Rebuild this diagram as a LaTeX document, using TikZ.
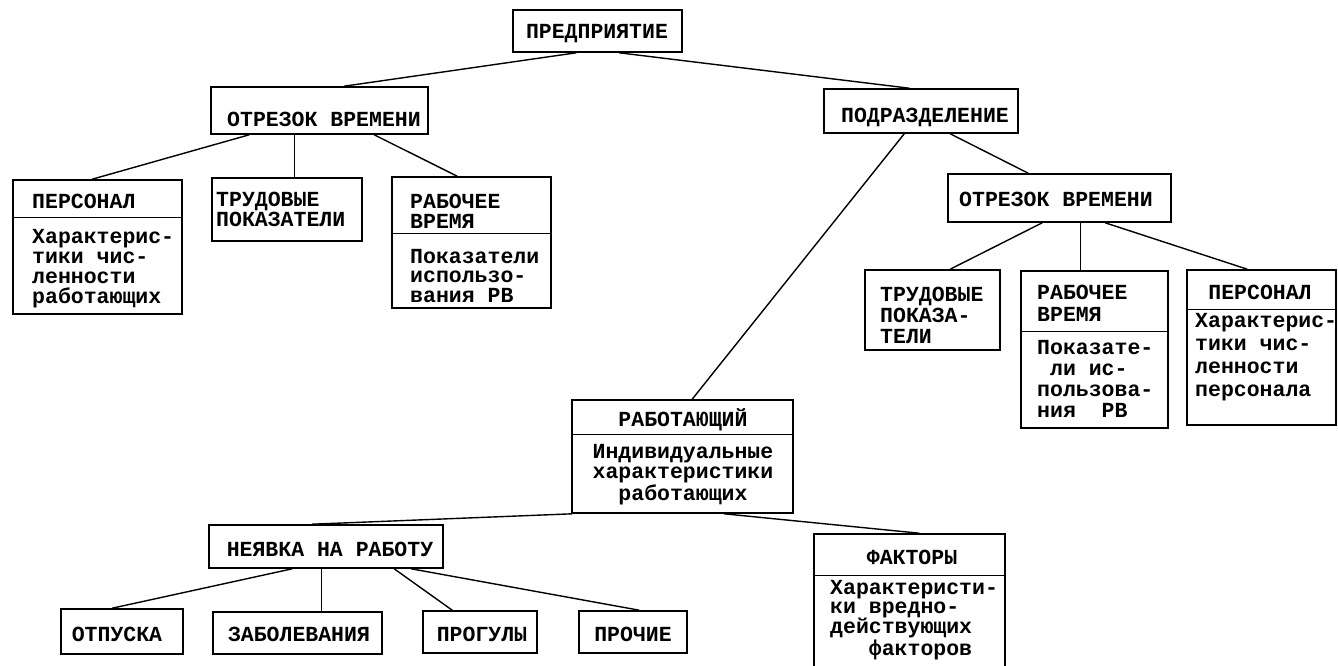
\documentclass[tikz,border=0pt]{standalone}
\usepackage{fontspec}
\newfontfamily\tw{Liberation Mono}
\usetikzlibrary{fit,calc}
\tikzset{
  box/.style={draw, line width=1.6pt, inner sep=0pt},
  txt/.style={font={\tw\bfseries\fontsize{21.5}{#1}\selectfont}, inner sep=0pt, align=left},
  txt/.default=20,
  ctxt/.style={txt=#1, align=center},
  ctxt/.default=20,
  link/.style={line width=1.4pt},
  divider/.style={line width=1.4pt},
}
\begin{document}
\begin{tikzpicture}[x=1pt,y=-1pt]
\useasboundingbox (0,0) rectangle (1338,666);
\fill[white] (0,0) rectangle (1338,666);
\clip (0,0) rectangle (1338,666);

% boxes
\node[box, fit={(513,10)(682,52)}] (pred) {};
\node[box, fit={(211,87)(428,134)}] (otL) {};
\node[box, fit={(824,89)(1018,133)}] (pod) {};
\node[box, fit={(13,180)(182,314)}] (perL) {};
\node[box, fit={(212,178)(362,241)}] (trudL) {};
\node[box, fit={(392,177)(551,308)}] (rabL) {};
\node[box, fit={(948,174)(1171,222)}] (otR) {};
\node[box, fit={(865,270)(1000,350)}] (trudR) {};
\node[box, fit={(1021,271)(1168,428)}] (rabR) {};
\node[box, fit={(1187,270)(1336,425)}] (perR) {};
\node[box, fit={(572,400)(793,513)}] (rabt) {};
\node[box, fit={(209,525)(443,568)}] (ney) {};
\node[box, fit={(61,609)(183,654)}] (otp) {};
\node[box, fit={(213,612)(382,654)}] (zab) {};
\node[box, fit={(423,611)(537,653)}] (prog) {};
\node[box, fit={(579,611)(687,653)}] (proch) {};
\node[box, fit={(814,534)(1005,700)}] (fakt) {};

% dividers
\draw[divider] ($(perL.north west)+(0,38)$) -- ($(perL.north east)+(0,38)$);
\draw[divider] ($(rabL.north west)+(0,57)$) -- ($(rabL.north east)+(0,57)$);
\draw[divider] ($(rabR.north west)+(0,61)$) -- ($(rabR.north east)+(0,61)$);
\draw[divider] ($(perR.north west)+(0,40)$) -- ($(perR.north east)+(0,40)$);
\draw[divider] ($(rabt.north west)+(0,35)$) -- ($(rabt.north east)+(0,35)$);
\draw[divider] ($(fakt.north west)+(0,42)$) -- ($(fakt.north east)+(0,42)$);

% texts (base anchor of a multi-line text = baseline of its last line)
\node[ctxt, anchor=base] (pred-t) at (597,39) {ПРЕДПРИЯТИЕ};
\node[ctxt, anchor=base] (otL-t) at (324,127) {ОТРЕЗОК ВРЕМЕНИ};
\node[ctxt, anchor=base] (pod-t) at (925,123) {ПОДРАЗДЕЛЕНИЕ};
\node[txt, anchor=base west] (perL-h) at (32,208) {ПЕРСОНАЛ};
\node[txt, anchor=base west] (perL-b) at (32,303) {Характерис-\\тики чис-\\ленности\\работающих};
\node[txt=18, anchor=base west] (trudL-t) at (216,226) {ТРУДОВЫЕ\\ПОКАЗАТЕЛИ};
\node[txt, anchor=base west] (rabL-h) at (410,228) {РАБОЧЕЕ\\ВРЕМЯ};
\node[txt=19.5, anchor=base west] (rabL-b) at (410,302) {Показатели\\использо-\\вания РВ};
\node[ctxt, anchor=base] (otR-t) at (1056,206) {ОТРЕЗОК ВРЕМЕНИ};
\node[txt=21, anchor=base west] (trudR-t) at (880,343) {ТРУДОВЫЕ\\ПОКАЗА-\\ТЕЛИ};
\node[txt=22, anchor=base west] (rabR-h) at (1037,321) {РАБОЧЕЕ\\ВРЕМЯ};
\node[txt=20.7, anchor=base west] (rabR-b) at (1037,417) {Показате-\\~ли ис-\\пользова-\\ния~~РВ};
\node[ctxt, anchor=base] (perR-h) at (1260,299) {ПЕРСОНАЛ};
\node[txt=23, anchor=base west] (perR-b) at (1195,396) {Характерис-\\тики чис-\\ленности\\персонала};
\node[ctxt, anchor=base] (rabt-h) at (683,426) {РАБОТАЮЩИЙ};
\node[ctxt, anchor=base] (rabt-b) at (683,500) {Индивидуальные\\характеристики\\работающих};
\node[ctxt, anchor=base] (ney-t) at (330,556) {НЕЯВКА НА РАБОТУ};
\node[ctxt, anchor=base] (otp-t) at (117,641) {ОТПУСКА};
\node[ctxt, anchor=base] (zab-t) at (299,641) {ЗАБОЛЕВАНИЯ};
\node[ctxt, anchor=base] (prog-t) at (482,641) {ПРОГУЛЫ};
\node[ctxt, anchor=base] (proch-t) at (633,641) {ПРОЧИЕ};
\node[ctxt, anchor=base] (fakt-h) at (912,564) {ФАКТОРЫ};
\node[txt=19, anchor=base west] (fakt-b) at (830,655) {Характеристи-\\ки вредно-\\действующих\\~~~факторов};

% connectors
\draw[link] ($(pred.south west)+(64,0)$) -- ($(otL.north west)+(134,0)$);
\draw[link] ($(pred.south west)+(107,0)$) -- ($(pod.north west)+(86,0)$);
\draw[link] ($(otL.south west)+(39,0)$) -- ($(perL.north west)+(80,0)$);
\draw[link] ($(otL.south west)+(84,0)$) -- ($(trudL.north west)+(83,0)$);
\draw[link] ($(otL.south west)+(164,0)$) -- ($(rabL.north west)+(66,0)$);
\draw[link] ($(pod.south west)+(81,0)$) -- ($(rabt.north west)+(121,0)$);
\draw[link] ($(pod.south west)+(127,0)$) -- ($(otR.north west)+(81,0)$);
\draw[link] ($(otR.south west)+(95,0)$) -- ($(trudR.north west)+(86,0)$);
\draw[link] ($(otR.south west)+(133,0)$) -- ($(rabR.north west)+(60,0)$);
\draw[link] ($(otR.south west)+(158,0)$) -- ($(perR.north west)+(61,0)$);
\draw[link] ($(rabt.south west)+(1,0)$) -- ($(ney.north west)+(104,0)$);
\draw[link] ($(rabt.south west)+(153,0)$) -- ($(fakt.north west)+(106,0)$);
\draw[link] ($(ney.south west)+(84,0)$) -- ($(otp.north west)+(52,0)$);
\draw[link] ($(ney.south west)+(113,0)$) -- ($(zab.north west)+(109,0)$);
\draw[link] ($(ney.south west)+(186,0)$) -- ($(prog.north west)+(30,0)$);
\draw[link] ($(ney.south west)+(203,0)$) -- ($(proch.north west)+(61,0)$);
\end{tikzpicture}
\end{document}
